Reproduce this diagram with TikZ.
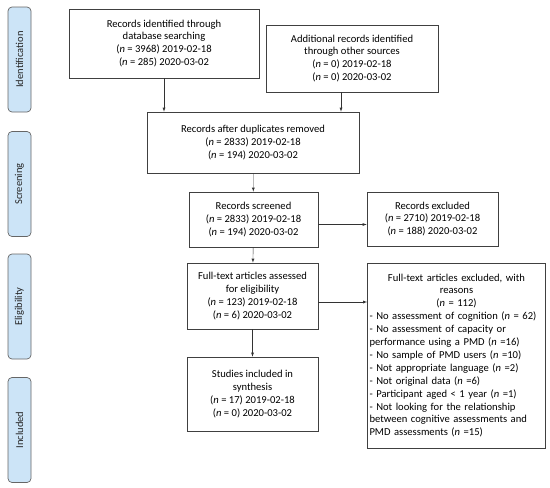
\documentclass[tikz,border=0pt]{standalone}
\usepackage{fontspec}
\setmainfont{Carlito}
\definecolor{stagefill}{HTML}{CCE4F7}
\tikzset{
    flowbox/.style={draw=black!75, line width=.7pt, align=center, inner sep=2pt,
        font=\fontsize{10.6}{12.9}\selectfont},
    stagebox/.style={draw=black!60, fill=stagefill, rounded corners=4pt, line width=.7pt,
        minimum width=23pt, minimum height=105pt},
    stagetext/.style={rotate=90, font=\fontsize{10.5}{12}\selectfont, text=black!85}
}
\newcommand{\nn}{\textit{n}}
\begin{document}
\begin{tikzpicture}[x=1pt, y=-1pt]

    \useasboundingbox (0,0) rectangle (550,488);

    % Stage labels on the left
    \node[stagebox] (ident) at (19.5,59.5) {};
    \node[stagetext] at (ident) {Identification};
    \node[stagebox] (screen) at (19.5,184) {};
    \node[stagetext] at (screen) {Screening};
    \node[stagebox] (elig) at (19.5,306.5) {};
    \node[stagetext] at (elig) {Eligibility};
    \node[stagebox] (inclab) at (19.5,430) {};
    \node[stagetext] at (inclab) {Included};

    % Identification
    \node[flowbox, minimum width=190pt, minimum height=69pt] (dbase) at (164,43.5)
        {Records identified through\\ database searching\\ (\nn{} = 3968) 2019-02-18\\ (\nn{} = 285) 2020-03-02};
    \node[flowbox, minimum width=172pt, minimum height=67pt] (other) at (352,58.5)
        {Additional records identified\\ through other sources\\ (\nn{} = 0) 2019-02-18\\ (\nn{} = 0) 2020-03-02};

    % Screening
    \node[flowbox, minimum width=212pt, minimum height=61pt] (dupl) at (253,142.5)
        {Records after duplicates removed\\ (\nn{} = 2833) 2019-02-18\\ (\nn{} = 194) 2020-03-02};
    \node[flowbox, minimum width=129pt, minimum height=55pt] (screened) at (253.5,219.5)
        {Records screened\\ (\nn{} = 2833) 2019-02-18\\ (\nn{} = 194) 2020-03-02};
    \node[flowbox, minimum width=131pt, minimum height=54pt] (excl) at (432.5,219)
        {Records excluded\\ (\nn{} = 2710) 2019-02-18\\ (\nn{} = 188) 2020-03-02};

    % Eligibility
    \node[flowbox, minimum width=131pt, minimum height=66pt] (fulltext) at (252.5,296)
        {Full-text articles assessed\\ for eligibility\\ (\nn{} = 123) 2019-02-18\\ (\nn{} = 6) 2020-03-02};
    \node[flowbox, text width=174pt, minimum height=185pt, align=left] (fullexcl) at (456.5,355.5)
        {{\centering Full-text articles excluded, with\\ reasons\\ (\nn{} = 112)\par}
        - No assessment of cognition (\nn{} = 62)\\
        - No assessment of capacity or\\ performance using a PMD (\nn{} =16)\\
        - No sample of PMD users (\nn{} =10)\\
        - Not appropriate language (\nn{} =2)\\
        - Not original data (\nn{} =6)\\
        - Participant aged {\textless} 1 year (\nn{} =1)\\
        - Not looking for the relationship\\ between cognitive assessments and\\ PMD assessments (\nn{} =15)};

    % Included
    \node[flowbox, minimum width=131pt, minimum height=74pt] (studies) at (252.5,394)
        {Studies included in\\ synthesis\\ (\nn{} = 17) 2019-02-18\\ (\nn{} = 0) 2020-03-02};

    % Arrows
    \draw[-latex, black!80] (dbase.south) -- (dbase.south |- dupl.north);
    \draw[-latex, black!80] ([xshift=-11pt]other.south) -- ([xshift=-11pt]other.south |- dupl.north);
    \draw[-latex, black!80] (dupl) -- (screened);
    \draw[-latex, black!80] ([yshift=-5pt]screened.east) -- ([yshift=-5pt]screened.east -| excl.west);
    \draw[-latex, black!80] (screened) -- (fulltext);
    \draw[-latex, black!80] ([yshift=-6pt]fulltext.east) -- ([yshift=-6pt]fulltext.east -| fullexcl.west);
    \draw[-latex, black!80] (fulltext) -- (studies);

\end{tikzpicture}
\end{document}
